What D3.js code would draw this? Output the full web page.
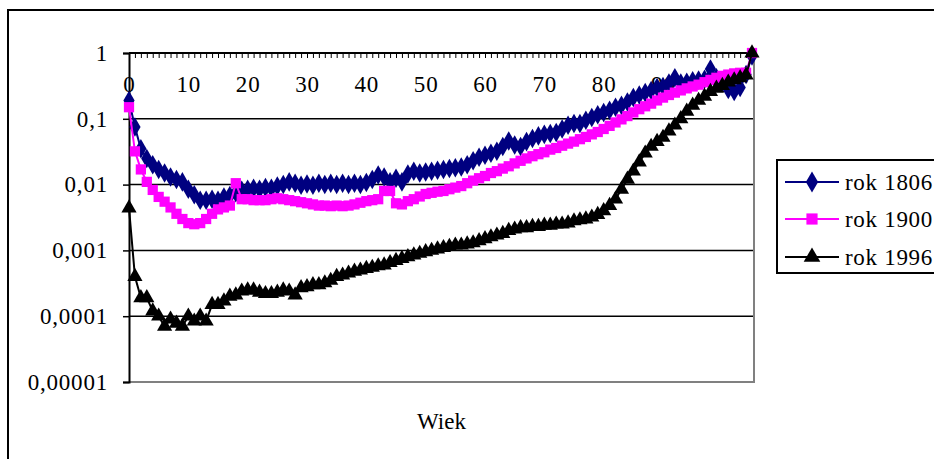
<!DOCTYPE html>
<html><head><meta charset="utf-8">
<script src="https://cdn.jsdelivr.net/npm/d3@7"></script>
<style>
html,body{margin:0;padding:0;background:#fff;}
svg{display:block;}
text{font-family:"Liberation Serif","Times New Roman",serif;}
</style></head>
<body>
<svg id="chart" width="934" height="459"></svg>
<script>
const ages = d3.range(0, 106);
const yTickValues = [1, 0.1, 0.01, 0.001, 0.0001, 0.00001];
const yTickLabels = ["1", "0,1", "0,01", "0,001", "0,0001", "0,00001"];
const xLabelStep = 10;
const seriesNames = ["rok 1806", "rok 1900", "rok 1996"];
const xTitle = "Wiek";

const rok1806 = [0.19,0.075,0.035,0.025,0.02,0.017,0.015,0.013,0.012,0.011,
0.0085,0.007,0.0058,0.0058,0.006,0.0058,0.0065,0.0068,0.0075,0.0082,
0.0085,0.0088,0.0085,0.009,0.0088,0.0095,0.01,0.011,0.0105,0.0098,
0.0102,0.0098,0.0105,0.01,0.0105,0.01,0.0105,0.01,0.0105,0.01,
0.0108,0.012,0.014,0.013,0.011,0.0125,0.011,0.0145,0.016,0.015,
0.0155,0.016,0.0165,0.017,0.0175,0.018,0.0185,0.02,0.023,0.026,
0.028,0.03,0.032,0.038,0.046,0.04,0.038,0.045,0.05,0.055,
0.058,0.06,0.062,0.07,0.08,0.085,0.085,0.095,0.105,0.115,
0.125,0.135,0.15,0.16,0.18,0.21,0.23,0.25,0.27,0.3,
0.31,0.35,0.42,0.35,0.36,0.38,0.39,0.4,0.57,0.42,
0.36,0.28,0.26,0.3,0.47,0.9];

const rok1900 = [0.15,0.032,0.017,0.011,0.0083,0.0065,0.0055,0.0045,0.0036,0.003,
0.0026,0.0025,0.0026,0.003,0.0036,0.0042,0.0045,0.0048,0.0105,0.006,
0.006,0.0058,0.0058,0.0058,0.006,0.0062,0.006,0.0058,0.0056,0.0054,
0.0052,0.005,0.0048,0.0048,0.0047,0.0048,0.0047,0.0048,0.005,0.0053,
0.0056,0.0058,0.006,0.008,0.008,0.0052,0.005,0.0056,0.006,0.0066,
0.0072,0.0075,0.0078,0.008,0.0085,0.009,0.0095,0.0105,0.0115,0.0125,
0.0135,0.015,0.016,0.0175,0.019,0.021,0.023,0.025,0.027,0.029,
0.031,0.034,0.036,0.039,0.042,0.045,0.049,0.053,0.058,0.063,
0.07,0.078,0.088,0.098,0.11,0.125,0.14,0.155,0.17,0.19,
0.21,0.23,0.25,0.27,0.29,0.31,0.33,0.36,0.39,0.42,
0.45,0.47,0.49,0.5,0.5,1.0];

const rok1996 = [0.0044,0.0004,0.00019,0.00019,0.00012,0.0001,0.00007,0.00009,0.000078,0.00007,
0.0001,0.000084,0.0001,0.000084,0.00015,0.00015,0.00017,0.0002,0.00021,0.00024,
0.00025,0.00025,0.00023,0.00022,0.00022,0.00023,0.00025,0.00024,0.00021,0.00027,
0.00028,0.0003,0.0003,0.00032,0.00035,0.0004,0.00042,0.00045,0.00048,0.0005,
0.00053,0.00055,0.00058,0.0006,0.00065,0.0007,0.00075,0.0008,0.00085,0.0009,
0.00095,0.001,0.00105,0.0011,0.00115,0.0012,0.0012,0.00125,0.0013,0.0014,
0.0015,0.0016,0.0017,0.0018,0.002,0.0021,0.0022,0.0022,0.0023,0.0023,
0.0024,0.0024,0.0025,0.0025,0.0026,0.0028,0.0029,0.003,0.0032,0.0035,
0.004,0.0048,0.006,0.0085,0.012,0.016,0.022,0.03,0.038,0.045,
0.052,0.065,0.08,0.1,0.13,0.16,0.19,0.22,0.26,0.29,
0.32,0.36,0.39,0.42,0.46,1.0];

const seriesData = [rok1806, rok1900, rok1996];
const colors = ["#000080", "#FF00FF", "#000000"];
const symbols = [d3.symbolDiamond, d3.symbolSquare, d3.symbolTriangle];
const symSizes = [110, 105, 100];

const svg = d3.select("#chart");
const FONT = "23px";
const SPACING = "0.8px";

// outer frame
svg.append("rect").attr("x", 8).attr("y", 10).attr("width", 1000).attr("height", 1000)
  .attr("fill", "none").attr("stroke", "#000").attr("stroke-width", 2);

const L = 129, R = 754, T = 53, B = 382;
const x = d3.scaleLinear().domain([0, 105]).range([L, 752]);
const y = d3.scaleLog().domain([1e-5, 1]).range([B, T]);

// gridlines
svg.append("g").selectAll("line").data(yTickValues.filter(v => v > 1e-5)).join("line")
  .attr("x1", L).attr("x2", R).attr("y1", d => y(d)).attr("y2", d => y(d))
  .attr("stroke", "#000").attr("stroke-width", 1.5);

// plot area border right/bottom (gray)
svg.append("path").attr("d", `M${R},${T}V${B}H${L}`)
  .attr("fill", "none").attr("stroke", "#808080").attr("stroke-width", 2);

// y axis
const yAxis = d3.axisLeft(y).tickValues(yTickValues)
  .tickFormat((d, i) => yTickLabels[i]).tickSize(6).tickPadding(15);
const gy = svg.append("g").attr("transform", `translate(${L},0)`).call(yAxis);
gy.select(".domain").attr("stroke", "#000").attr("stroke-width", 2);
gy.selectAll(".tick line").attr("stroke", "#000").attr("stroke-width", 1.5);
gy.selectAll("text").attr("font-size", FONT).attr("fill", "#000").attr("letter-spacing", SPACING)
  .style("font-family", '"Liberation Serif","Times New Roman",serif');

// x axis at top (crosses at 1), ticks pointing down
const xAxis = d3.axisBottom(x).tickValues(ages)
  .tickFormat(d => d % xLabelStep === 0 ? String(d) : "").tickSize(5).tickPadding(18).tickSizeOuter(0);
const gx = svg.append("g").attr("transform", `translate(0,${T})`).call(xAxis);
gx.select(".domain").attr("stroke", "#000").attr("stroke-width", 2).attr("d", `M${L},0H${R}`);
gx.selectAll(".tick line").attr("stroke", "#000").attr("stroke-width", 1);
gx.selectAll("text").attr("font-size", FONT).attr("fill", "#000").attr("letter-spacing", SPACING)
  .style("font-family", '"Liberation Serif","Times New Roman",serif');

// series
const line = d3.line().x((d, i) => x(ages[i])).y(d => y(d));
seriesData.forEach((data, k) => {
  const g = svg.append("g");
  g.append("path").datum(data).attr("d", line)
    .attr("fill", "none").attr("stroke", colors[k]).attr("stroke-width", 2);
  g.selectAll("path.m").data(data).join("path").attr("class", "m")
    .attr("d", d3.symbol().type(symbols[k]).size(symSizes[k]))
    .attr("transform", (d, i) => `translate(${x(ages[i])},${y(d)})`)
    .attr("fill", colors[k]);
});

// x title
svg.append("text").attr("x", (L + R) / 2).attr("y", 429).attr("text-anchor", "middle")
  .attr("font-size", FONT).text(xTitle);

// legend
const lg = svg.append("g");
lg.append("rect").attr("x", 777).attr("y", 160).attr("width", 300).attr("height", 113)
  .attr("fill", "#fff").attr("stroke", "#000").attr("stroke-width", 2);
const legY = [182, 219, 257];
seriesNames.forEach((name, k) => {
  lg.append("line").attr("x1", 785).attr("x2", 839).attr("y1", legY[k]).attr("y2", legY[k])
    .attr("stroke", colors[k]).attr("stroke-width", 2);
  lg.append("path").attr("d", d3.symbol().type(symbols[k]).size(symSizes[k] + 20))
    .attr("transform", `translate(812,${legY[k]})`).attr("fill", colors[k]);
  lg.append("text").attr("x", 845).attr("y", legY[k]).attr("dy", "0.35em")
    .attr("font-size", FONT).attr("letter-spacing", "0.7px").text(name);
});
</script>
</body></html>
